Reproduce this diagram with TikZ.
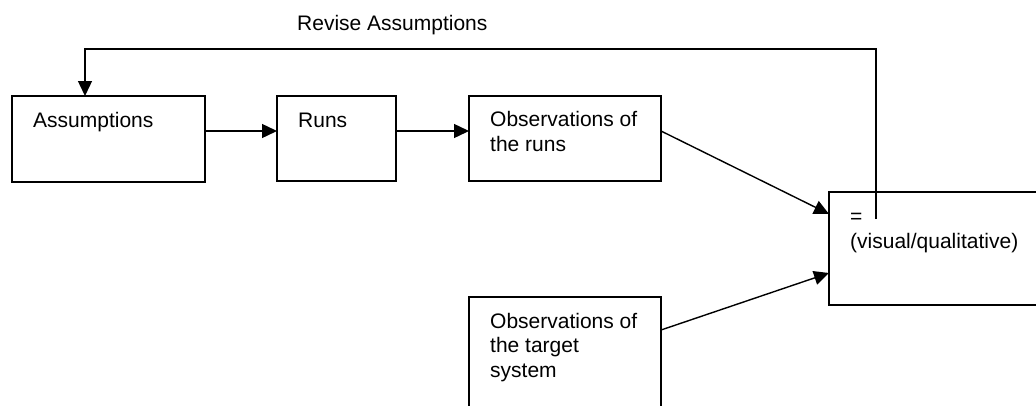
\documentclass[tikz,border=0pt]{standalone}
\usepackage{fontspec}
\setmainfont{Liberation Sans}
\usetikzlibrary{arrows.meta,calc}
\begin{document}
\begin{tikzpicture}[x=1pt,y=-1pt,
  box/.style={draw,line width=1.8pt,rectangle,inner sep=0pt,outer sep=0pt,anchor=north west},
  txt/.style={inner sep=0pt,anchor=base west,align=left,font=\fontsize{21}{24.5}\selectfont},
  arr/.style={line width=1.4pt,-{Triangle[length=15pt,width=14pt]}}]
\useasboundingbox (0,0) rectangle (1036,405);
\clip (0,0) rectangle (1036,405);
\fill[white] (0,0) rectangle (1036,405);
% boxes
\node[box,minimum width=193pt,minimum height=86pt] (A) at (12,96) {};
\node[box,minimum width=119pt,minimum height=85pt] (R) at (277,96) {};
\node[box,minimum width=192pt,minimum height=85pt] (O) at (469,96) {};
\node[box,minimum width=230pt,minimum height=113pt] (E) at (829,192) {};
\node[box,minimum width=192pt,minimum height=130pt] (T) at (469,297) {};
% texts (anchored at the baseline of the last line)
\node[txt] (tA) at (33,127) {Assumptions};
\node[txt] (tR) at (298,127) {Runs};
\node[txt] (tO) at (490,151) {Observations of\\the runs};
\node[txt] (tT) at (490,377) {Observations of\\the target\\system};
\node[txt] (tE) at (850,248) {=\\(visual/qualitative)};
\node[txt] (tF) at (297,30) {Revise Assumptions};
% connectors
\draw[arr] ($(A.north east)+(0,35)$) -- ($(R.north west)+(0,35)$);
\draw[arr] ($(R.north east)+(0,35)$) -- ($(O.north west)+(0,35)$);
\draw[arr] ($(O.north east)+(0,35)$) -- ($(E.north west)+(0,22)$);
\draw[arr] ($(T.north east)+(0,33)$) -- ($(E.north west)+(0,81)$);
\coordinate (fb) at (876,219);
\coordinate (fbtop) at (876,49);
\draw[arr] (fb) -- (fbtop) -| ($(A.north west)+(73,0)$);
\end{tikzpicture}
\end{document}
